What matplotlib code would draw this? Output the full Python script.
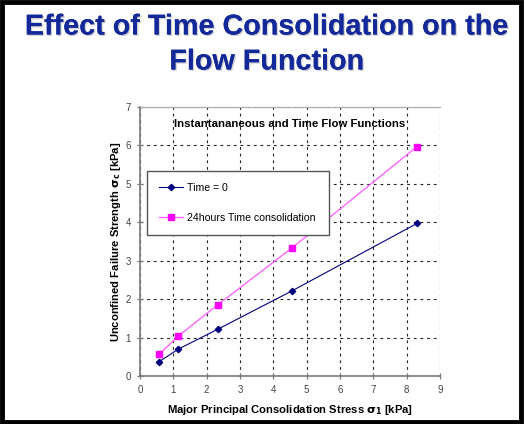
import matplotlib
matplotlib.use("Agg")
import matplotlib.pyplot as plt
import matplotlib.patheffects as pe
from matplotlib.patches import Rectangle

# Data
stress = [0.57, 1.15, 2.34, 4.57, 8.31]
time0 = [0.37, 0.70, 1.22, 2.22, 3.97]
time24 = [0.56, 1.04, 1.86, 3.34, 5.97]
series_labels = ["Time = 0", "24hours Time consolidation"]
xticks = list(range(0, 10))
yticks = list(range(0, 8))

plt.rcParams['font.family'] = ['Liberation Sans', 'DejaVu Sans']

W, H = 525, 424
fig = plt.figure(figsize=(W / 100, H / 100), dpi=100)

# outer black border
fig.patches.append(Rectangle((0.003, 0.004), 0.99, 0.992, transform=fig.transFigure,
                             fill=False, edgecolor='black', linewidth=3.5))

title_color = '#13299a'
for i, line in enumerate(["Effect of Time Consolidation on the", "Flow Function"]):
    fig.text(0.508, 1 - (26.5 + 35 * i) / H, line, ha='center', va='center',
             fontsize=20.7, fontweight='bold', color=title_color,
             path_effects=[pe.withSimplePatchShadow(offset=(1.0, -1.0), shadow_rgbFace='#999999', alpha=0.45),
                           pe.Normal()])

ax = fig.add_axes([140 / W, 1 - 376 / H, 300 / W, 269 / H])
ax.set_xlim(0, 9)
ax.set_ylim(0, 7)
ax.set_xticks(xticks)
ax.set_yticks(yticks)

ax.grid(True, color='#222222', linestyle=(0, (2.5, 3.5)), linewidth=0.8)
ax.set_axisbelow(True)

for s in ['left', 'bottom']:
    ax.spines[s].set_color('#7a7a7a')
    ax.spines[s].set_linewidth(1.2)
ax.spines['top'].set_color('#b0b0b0')
ax.spines['top'].set_linewidth(0.9)
ax.spines['right'].set_visible(False)

ax.tick_params(direction='inout', length=5, width=0.9, color='#7a7a7a',
               labelsize=7, labelcolor='#444444', pad=4)

ax.plot(stress, time0, color='#000080', linewidth=0.8, marker='D', markersize=3.2,
        label=series_labels[0])
ax.plot(stress, time24, color='#ff66ff', linewidth=1.0, marker='s', markersize=4.2,
        markerfacecolor='#ff00ff', markeredgecolor='#ff00ff', label=series_labels[1])

ax.text(0.5, 0.935, "Instantananeous and Time Flow Functions", transform=ax.transAxes,
        ha='center', va='center', fontsize=8.2, fontweight='bold')

ax.set_xlabel("Major Principal Consolidation Stress $\\mathbf{\\sigma_1}$ [kPa]",
              fontsize=8.1, fontweight='bold', labelpad=6)
ax.set_ylabel("Unconfined Failure Strength $\\mathbf{\\sigma_c}$ [kPa]",
              fontsize=8.1, fontweight='bold', labelpad=2)

leg = ax.legend(loc='upper left', bbox_to_anchor=(147 / W, 1 - 233 / H, 182 / W, 62 / H),
                bbox_transform=fig.transFigure, mode='expand', fancybox=False,
                edgecolor='#555555', framealpha=1, fontsize=7.6, handlelength=2.3,
                handletextpad=0.3, labelspacing=1.9, borderpad=1.15, borderaxespad=0)
leg.get_frame().set_linewidth(1.0)

fig.savefig("out.png", dpi=100)
